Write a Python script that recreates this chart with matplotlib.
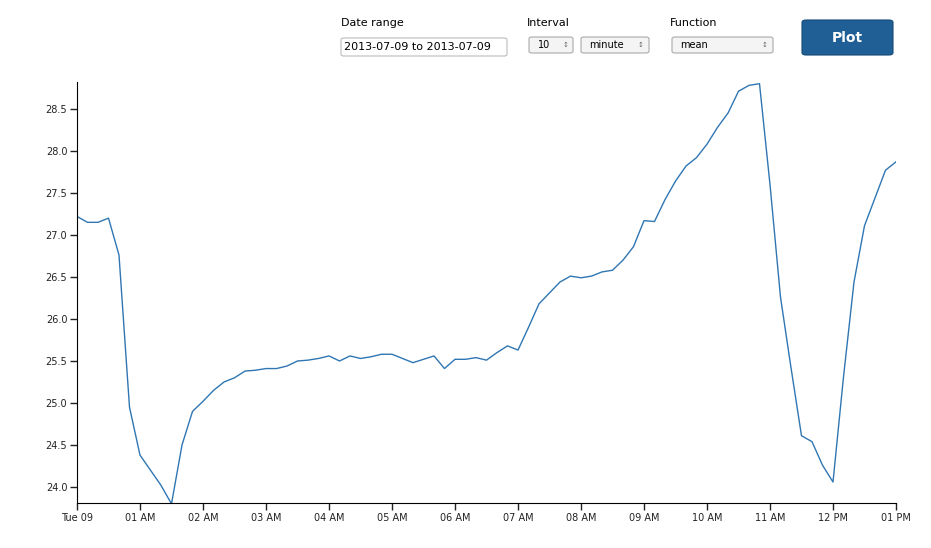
import matplotlib
matplotlib.use("Agg")
import matplotlib.pyplot as plt
from matplotlib.patches import FancyBboxPatch
import numpy as np

# 10-minute means, Tue 09 00:00 .. 13:00
values = [27.22, 27.15, 27.15, 27.20, 26.76, 24.95, 24.38, 24.20, 24.02, 23.80,
          24.50, 24.90, 25.02, 25.15, 25.25, 25.30, 25.38, 25.39, 25.41, 25.41,
          25.44, 25.50, 25.51, 25.53, 25.56, 25.50, 25.56, 25.53, 25.55, 25.58,
          25.58, 25.53, 25.48, 25.52, 25.56, 25.41, 25.52, 25.52, 25.54, 25.51,
          25.60, 25.68, 25.63, 25.90, 26.18, 26.31, 26.44, 26.51, 26.49, 26.51,
          26.56, 26.58, 26.70, 26.86, 27.17, 27.16, 27.42, 27.64, 27.82, 27.92,
          28.08, 28.28, 28.45, 28.71, 28.78, 28.80, 27.60, 26.26, 25.42, 24.61,
          24.54, 24.26, 24.06, 25.31, 26.44, 27.11, 27.44, 27.77, 27.87]
hours = np.arange(len(values)) / 6.0
tick_labels = ["Tue 09", "01 AM", "02 AM", "03 AM", "04 AM", "05 AM", "06 AM",
               "07 AM", "08 AM", "09 AM", "10 AM", "11 AM", "12 PM", "01 PM"]
y_ticks = np.arange(24.0, 28.51, 0.5)

fig = plt.figure(figsize=(9.31, 5.48), dpi=100)
ax = fig.add_axes([77/931, 45/548, 819/931, 421/548])
ax.plot(hours, values, color="#2f76b3", lw=1.0)
ax.set_xlim(0, 13)
ax.set_ylim(23.81, 28.82)
ax.set_xticks(range(14))
ax.set_xticklabels(tick_labels)
ax.set_yticks(y_ticks)
ax.set_yticklabels([f"{v:.1f}" for v in y_ticks])
for s in ["top", "right"]:
    ax.spines[s].set_visible(False)
ax.tick_params(labelsize=7, length=5, width=1, colors="#222222", pad=2)

# form controls above the chart
def box(x, y, w, h, fc="#f4f4f4", ec="#aaaaaa", r=3):
    fig.patches.append(FancyBboxPatch((x/931, 1 - (y+h)/548), w/931, h/548,
                       boxstyle=f"round,pad=0,rounding_size={r/931}",
                       transform=fig.transFigure, fc=fc, ec=ec, lw=0.8))

def txt(x, y, s, **kw):
    fig.text(x/931, 1 - y/548, s, va="center", **kw)

txt(341, 23, "Date range", fontsize=8)
box(341, 38, 166, 18, fc="white", ec="#bbbbbb")
txt(344, 47, "2013-07-09 to 2013-07-09", fontsize=8)
txt(527, 23, "Interval", fontsize=8)
box(529, 37, 44, 16)
txt(538, 45, "10", fontsize=7)
txt(563, 45, "\u2195", fontsize=5, color="#666666")
box(581, 37, 68, 16)
txt(589, 45, "minute", fontsize=7)
txt(638, 45, "\u2195", fontsize=5, color="#666666")
txt(670, 23, "Function", fontsize=8)
box(672, 37, 101, 16)
txt(680, 45, "mean", fontsize=7)
txt(762, 45, "\u2195", fontsize=5, color="#666666")
box(802, 20, 91, 35, fc="#1f5f95", ec="#174a75", r=4)
fig.text(847/931, 1 - 38/548, "Plot", ha="center", va="center",
         fontsize=10, fontweight="bold", color="white")

fig.savefig("out.png", dpi=100)
